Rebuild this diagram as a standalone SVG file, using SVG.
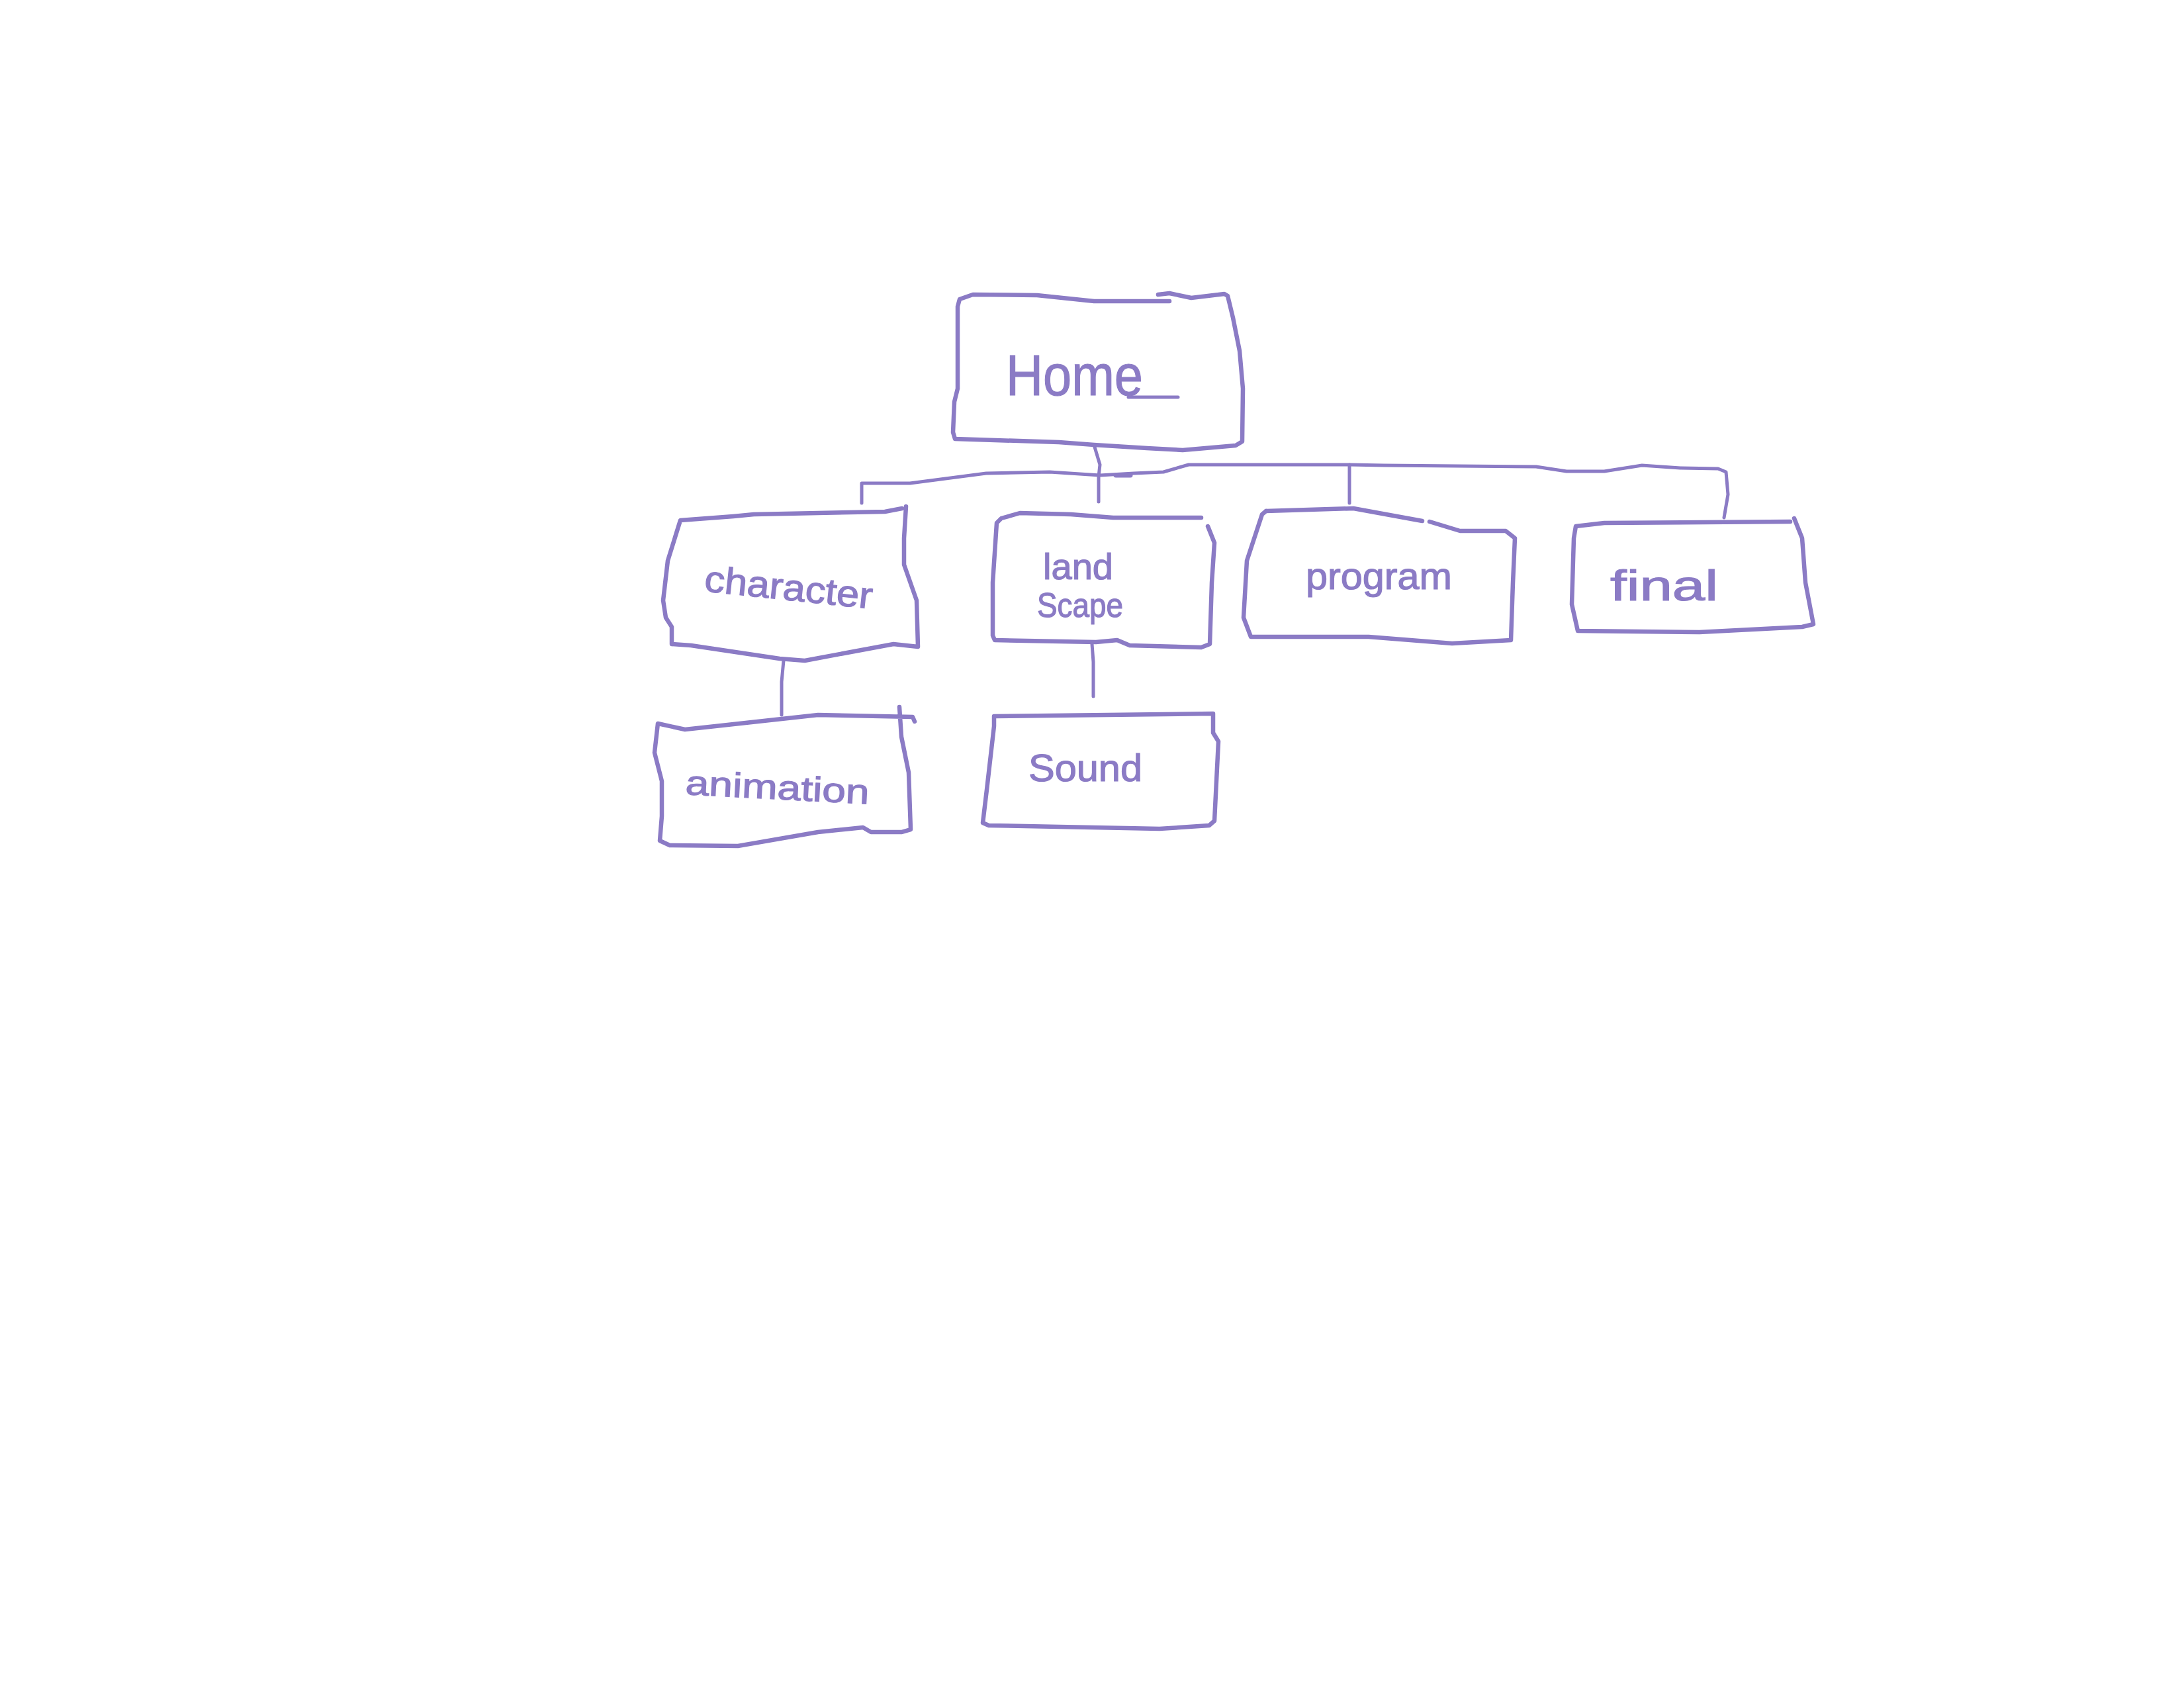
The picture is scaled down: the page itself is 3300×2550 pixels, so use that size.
<svg xmlns="http://www.w3.org/2000/svg" width="3300" height="2550" viewBox="0 0 3300 2550">
<style>
.b{fill:none;stroke:#8b7bc5;stroke-width:6.5;stroke-linecap:round;stroke-linejoin:round}
.c{fill:none;stroke:#8b7bc5;stroke-width:5;stroke-linecap:round;stroke-linejoin:round}
.t{fill:#8b7bc5;stroke:#8b7bc5;stroke-width:1.2;font-family:"Liberation Sans","DejaVu Sans",sans-serif}
</style>
<rect width="3300" height="2550" fill="#ffffff"/>
<g id="connectors">
<path class="c" d="M1653,672 L1662,702 L1660,720 L1660,758"/>
<path class="c" d="M1302,760 L1302,730 L1375,730 L1490,715 L1586,713 L1662,718 L1713,715 L1758,713 L1796,702 L2039,702 L2091,703 L2321,705 L2367,712 L2424,712 L2481,703 L2539,707 L2596,708 L2608,713 L2611,747 L2605,782"/>
<path class="c" d="M1686,718 L1708,718" style="stroke-width:7"/>
<path class="c" d="M2039,702 L2039,760"/>
<path class="c" d="M1184,998 L1181,1030 L1181,1080"/>
<path class="c" d="M1650,973 L1652,1000 L1652,1052"/>
</g>
<g id="home">
<path class="b" d="M1767,455 L1653,455 L1567,446 L1470,445 L1450,452 L1447,463 L1447,587 L1442,607 L1440,653 L1443,663 L1600,668 L1653,672 L1733,677 L1787,680 L1867,673 L1877,667 L1878,587 L1873,530 L1863,480 L1855,447 L1850,444 L1800,450 L1767,443 L1750,445"/>
<text class="t" x="1520" y="597" font-size="88" textLength="207" lengthAdjust="spacingAndGlyphs">Home</text>
<path class="c" d="M1705,600 L1780,600"/>
</g>
<g id="character">
<path class="b" d="M1363,768 L1337,773 L1139,777 L1108,780 L1028,786 L1009,847 L1002,907 L1006,933 L1015,947 L1015,973 L1044,975 L1178,995 L1216,998 L1350,973 L1387,977 L1385,907 L1366,853 L1366,813 L1369,765"/>
<text class="t" x="1063" y="893" font-size="56" textLength="255" lengthAdjust="spacingAndGlyphs" transform="rotate(6 1063 893)">character</text>
</g>
<g id="landscape">
<path class="b" d="M1815,782 L1682,782 L1618,777 L1541,775 L1513,783 L1506,790 L1500,880 L1500,960 L1503,967 L1656,970 L1688,967 L1707,975 L1815,978 L1828,973 L1831,880 L1835,820 L1825,795"/>
<text class="t" x="1576" y="875" font-size="56" textLength="106" lengthAdjust="spacingAndGlyphs">land</text>
<text class="t" x="1567" y="932" font-size="52" textLength="130" lengthAdjust="spacingAndGlyphs">Scape</text>
</g>
<g id="program">
<path class="b" d="M1913,772 L2045,768 L2149,787 M2160,788 L2206,802 L2275,802 L2289,813 L2286,880 L2283,967 L2194,972 L2068,962 L1890,962 L1879,933 L1884,847 L1907,777 L1913,772"/>
<text class="t" x="1973" y="890" font-size="58" textLength="221" lengthAdjust="spacingAndGlyphs">program</text>
</g>
<g id="final">
<path class="b" d="M2705,788 L2424,790 L2381,795 L2378,813 L2375,913 L2384,953 L2568,955 L2723,947 L2740,943 L2728,880 L2723,813 L2711,783"/>
<text class="t" x="2433" y="907" font-size="64" textLength="163" lengthAdjust="spacingAndGlyphs">final</text>
</g>
<g id="animation">
<path class="b" d="M1382,1090 L1379,1083 L1236,1080 L1081,1097 L1035,1102 L994,1093 L989,1137 L1000,1180 L1000,1233 L997,1270 L1012,1277 L1115,1278 L1236,1257 L1304,1250 L1316,1257 L1362,1257 L1376,1253 L1373,1167 L1362,1113 L1359,1068"/>
<text class="t" x="1035" y="1200" font-size="52" textLength="278" lengthAdjust="spacingAndGlyphs" transform="rotate(3 1035 1200)">animation</text>
</g>
<g id="sound">
<path class="b" d="M1502,1082 L1833,1078 L1833,1107 L1841,1120 L1835,1240 L1827,1247 L1752,1252 L1494,1247 L1485,1243 L1491,1193 L1502,1097 L1502,1082"/>
<text class="t" x="1554" y="1180" font-size="58" textLength="172" lengthAdjust="spacingAndGlyphs">Sound</text>
</g>
</svg>
